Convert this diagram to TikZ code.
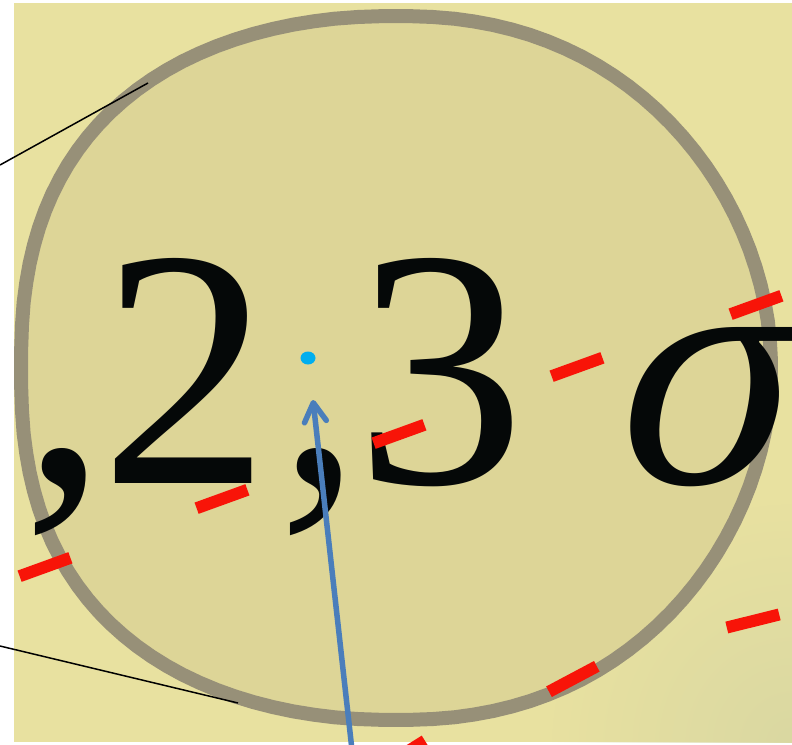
\documentclass[tikz,border=0pt]{standalone}
\usepackage{fontspec}
\setmainfont{Liberation Serif}
\usetikzlibrary{arrows.meta,shapes.geometric,fadings}
\definecolor{bgout}{HTML}{E8E1A0}
\definecolor{bgin}{HTML}{DDD597}
\definecolor{ringc}{HTML}{979078}
\definecolor{cornerc}{HTML}{DAD8A2}
\definecolor{dashred}{HTML}{F81408}
\definecolor{arrblue}{HTML}{4A7EBB}
\definecolor{dotblue}{HTML}{00AEEF}
\definecolor{inkc}{HTML}{050808}
\tikzfading[name=cornfade, inner color=transparent!0, outer color=transparent!100]
\begin{document}
\begin{tikzpicture}[x=1pt,y=-1pt,
  glyph/.style={inner sep=0pt, outer sep=0pt, anchor=base west, text=inkc, font=\fontsize{340}{340}\selectfont},
  reddash/.style={draw=dashred, line width=12pt},
  leader/.style={draw=black, line width=1.5pt},
  pointer/.style={draw=arrblue, line width=5.5pt, line cap=round, -{Straight Barb[length=19pt, width=22pt, round]}}]
\useasboundingbox (0,0) rectangle (792,744);
\fill[white] (0,0) rectangle (792,744);
\begin{scope}
\clip (14,3) rectangle (792,742);
\fill[bgout] (14,3) rectangle (792,742);
\fill[cornerc, path fading=cornfade] (792,744) circle[radius=240];
\end{scope}
\draw[ringc, line width=14pt, fill=bgin]
  plot[domain=1.5:358.5, samples=120, variable=\t]
  ({396+375*sign(cos(\t))*pow(abs(cos(\t)),2/(2.2-0.2*cos(\t)))},
   {368+352*sign(sin(\t))*pow(abs(sin(\t)),2/(2.2-0.2*cos(\t)))}) -- cycle;
% text
\node[glyph] (digits) at (23,483) {,\kern-8pt 2\kern8pt,\kern-8pt 3};
\node[glyph, xslant=0.2, transform shape] (sigma) at (604,483) {σ};
% blue dot
\node[ellipse, fill=dotblue, inner sep=0pt, minimum width=15pt, minimum height=13pt] (dot) at (308,358) {};
% red dashes
\draw[reddash] (730.6,314.2) -- (781.4,295.8);
\draw[reddash] (551.6,376.2) -- (602.4,357.8);
\draw[reddash] (373.6,443.2) -- (424.4,424.8);
\draw[reddash] (196.6,508.2) -- (247.4,489.8);
\draw[reddash] (19.6,576.2) -- (70.4,557.8);
\draw[reddash] (726.8,627.5) -- (779.2,614.5);
\draw[reddash] (549,691.7) -- (596.8,666.3);
\draw[reddash] (379.1,769.3) -- (424.9,740.7);
% arrow
\coordinate (arrS) at (352,750);
\coordinate (arrT) at (313,400);
\draw[pointer] (arrS) -- (arrT);
% leader lines
\coordinate (l1a) at (0,165);
\coordinate (l1b) at (148,83);
\coordinate (l2a) at (0,646);
\coordinate (l2b) at (238,703);
\draw[leader] (l1a) -- (l1b);
\draw[leader] (l2a) -- (l2b);
\end{tikzpicture}
\end{document}
